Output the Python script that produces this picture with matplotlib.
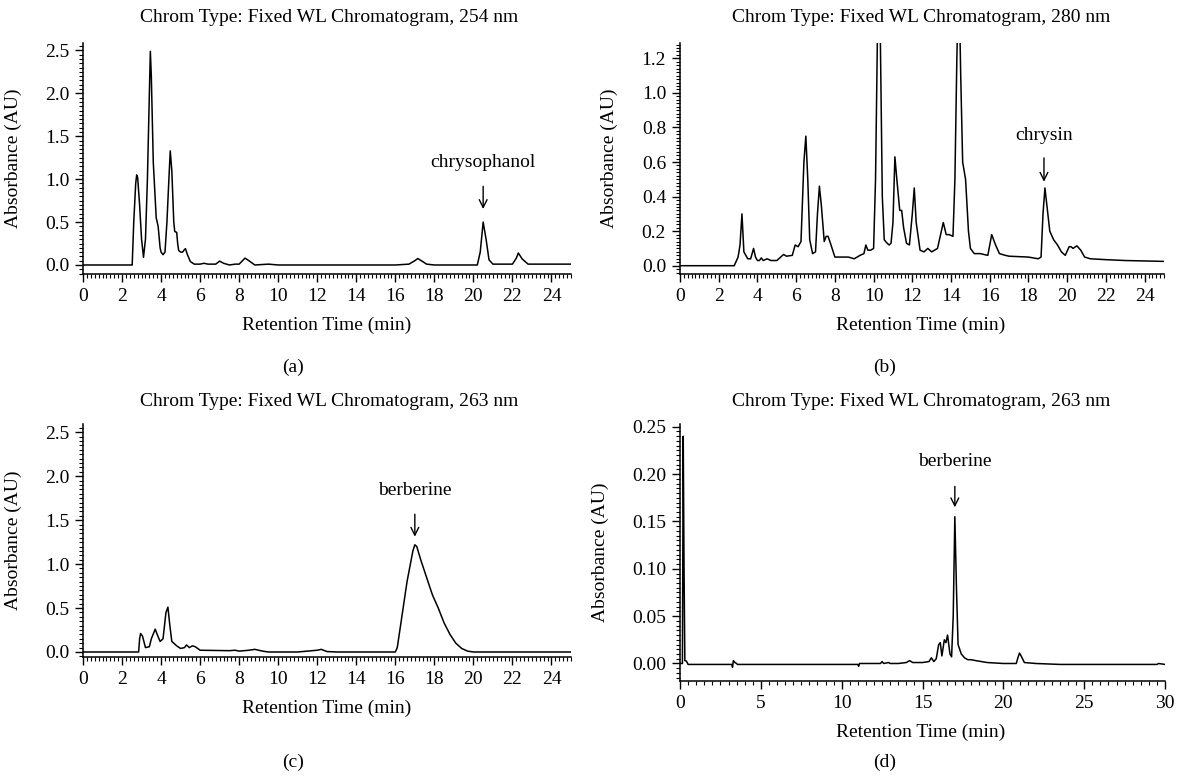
import matplotlib
matplotlib.use("Agg")
import matplotlib.pyplot as plt
from matplotlib.ticker import MultipleLocator, FormatStrFormatter

plt.rcParams["font.family"] = ["Liberation Serif", "DejaVu Serif"]
plt.rcParams["font.size"] = 14

W, H = 1180, 782

# ---- panel (a): 254 nm ----
t_a = [0, 2.5, 2.52, 2.6, 2.7, 2.75, 2.8, 2.9, 3.0, 3.1, 3.2, 3.3, 3.4, 3.45, 3.5, 3.6, 3.75,
       3.85, 3.95, 4.0, 4.1, 4.2, 4.3, 4.4, 4.47, 4.55, 4.65, 4.7, 4.8, 4.85, 4.9, 5.0, 5.1,
       5.2, 5.25, 5.35, 5.5, 5.7, 6.0, 6.2, 6.4, 6.8, 7.0, 7.2, 7.5, 7.8, 8.0, 8.3, 8.5, 8.8,
       9.5, 10.0, 16.0, 16.7, 17.0, 17.15, 17.4, 17.6, 18.0, 20.2, 20.35, 20.5, 20.65, 20.8,
       21.0, 22.0, 22.2, 22.3, 22.5, 22.8, 25.0]
abs_a = [0.0, 0.0, 0.0, 0.5, 0.95, 1.05, 1.02, 0.7, 0.3, 0.09, 0.3, 1.0, 2.0, 2.49, 2.2, 1.2, 0.55,
         0.45, 0.2, 0.15, 0.12, 0.15, 0.5, 1.0, 1.33, 1.1, 0.5, 0.39, 0.38, 0.25, 0.17, 0.15, 0.15,
         0.18, 0.19, 0.12, 0.04, 0.01, 0.01, 0.02, 0.01, 0.01, 0.045, 0.02, 0.0, 0.01, 0.01, 0.08, 0.05, 0.0,
         0.01, 0.0, 0.0, 0.01, 0.05, 0.075, 0.04, 0.01, 0.0, 0.0, 0.15, 0.5, 0.3, 0.06,
         0.01, 0.01, 0.08, 0.14, 0.07, 0.01, 0.01]

# ---- panel (b): 280 nm ----
t_b = [0, 2.8, 3.0, 3.1, 3.2, 3.3, 3.5, 3.65, 3.8, 3.9, 4.0, 4.1, 4.2, 4.3, 4.5, 4.7, 5.0, 5.2,
       5.35, 5.5, 5.8, 5.95, 6.1, 6.25, 6.4, 6.5, 6.6, 6.7, 6.85, 7.0, 7.1, 7.2, 7.3, 7.45, 7.55,
       7.65, 7.8, 8.0, 8.5, 8.7, 9.0, 9.3, 9.5, 9.6, 9.7, 9.85, 10.0, 10.1, 10.2, 10.25, 10.35,
       10.45, 10.55, 10.7, 10.8, 10.9, 11.0, 11.1, 11.2, 11.35, 11.45, 11.55, 11.7, 11.85, 12.0,
       12.1, 12.2, 12.4, 12.6, 12.8, 13.0, 13.3, 13.5, 13.6, 13.75, 13.9, 14.1, 14.2, 14.3, 14.4,
       14.5, 14.6, 14.75, 14.9, 15.0, 15.2, 15.5, 15.9, 16.0, 16.1, 16.3, 16.5, 16.8, 17.0, 18.0,
       18.5, 18.65, 18.75, 18.85, 19.0, 19.1, 19.3, 19.5, 19.7, 19.9, 20.1, 20.2, 20.3, 20.5,
       20.7, 20.9, 21.2, 22.0, 23.0, 25.0]
abs_b = [0.0, 0.0, 0.05, 0.12, 0.3, 0.08, 0.04, 0.04, 0.1, 0.05, 0.03, 0.03, 0.045, 0.03, 0.04, 0.03, 0.03, 0.05,
         0.065, 0.055, 0.06, 0.12, 0.11, 0.14, 0.6, 0.75, 0.5, 0.15, 0.07, 0.08, 0.3, 0.46, 0.35, 0.14, 0.17,
         0.17, 0.12, 0.05, 0.05, 0.05, 0.04, 0.06, 0.07, 0.12, 0.09, 0.09, 0.1, 0.5, 1.35, 1.7, 1.3,
         0.4, 0.15, 0.13, 0.12, 0.13, 0.25, 0.63, 0.5, 0.32, 0.32, 0.22, 0.13, 0.12, 0.3,
         0.45, 0.25, 0.09, 0.08, 0.1, 0.08, 0.1, 0.2, 0.25, 0.18, 0.18, 0.17, 0.5, 1.2, 1.7,
         1.1, 0.6, 0.5, 0.2, 0.1, 0.07, 0.07, 0.06, 0.12, 0.18, 0.12, 0.07, 0.06, 0.055, 0.05,
         0.04, 0.05, 0.3, 0.45, 0.3, 0.2, 0.15, 0.12, 0.08, 0.06, 0.11, 0.11, 0.1, 0.115,
         0.09, 0.05, 0.04, 0.035, 0.03, 0.025]

# ---- panel (c): 263 nm ----
t_c = [0, 2.85, 2.9, 2.95, 3.05, 3.2, 3.4, 3.5, 3.7, 3.8, 3.95, 4.1, 4.25, 4.35, 4.45, 4.55,
       4.8, 5.0, 5.2, 5.3, 5.45, 5.6, 5.75, 6.0, 7.5, 7.8, 8.0, 8.5, 8.8, 9.2, 9.5, 11.0, 11.5,
       12.0, 12.2, 12.5, 13.0, 16.0, 16.1, 16.3, 16.6, 16.9, 17.0, 17.1, 17.3, 17.6, 17.9, 18.2,
       18.5, 18.8, 19.1, 19.4, 19.7, 20.0, 25.0]
abs_c = [0.0, 0.0, 0.15, 0.21, 0.18, 0.05, 0.06, 0.15, 0.26, 0.2, 0.12, 0.15, 0.45, 0.51, 0.3, 0.12,
         0.07, 0.04, 0.05, 0.08, 0.05, 0.07, 0.06, 0.02, 0.015, 0.02, 0.01, 0.02, 0.03, 0.01, 0.0, 0.0, 0.01,
         0.02, 0.03, 0.005, 0.0, 0.0, 0.05, 0.35, 0.8, 1.15, 1.22, 1.2, 1.05, 0.85, 0.65, 0.5,
         0.33, 0.2, 0.1, 0.04, 0.01, 0.0, 0.0]

# ---- panel (d): 263 nm ----
t_d = [0, 0.15, 0.2, 0.25, 0.3, 0.4, 0.5, 3.2, 3.25, 3.3, 3.4, 3.5, 3.55, 11.0, 11.05, 11.1,
       12.0, 12.4, 12.5, 12.6, 12.9, 13.0, 13.5, 14.0, 14.2, 14.4, 15.0, 15.4, 15.55, 15.7, 15.85,
       16.0, 16.1, 16.2, 16.35, 16.45, 16.55, 16.7, 16.8, 16.9, 17.0, 17.1, 17.2, 17.4, 17.6,
       17.8, 18.0, 18.3, 19.0, 20.0, 20.8, 20.9, 21.0, 21.1, 21.3, 22.0, 23.5, 29.5, 29.6, 30.0]
abs_d = [0.0, 0.0, 0.24, 0.1, 0.003, 0.0025, -0.001, -0.001, -0.004, 0.003, 0.001, 0.0, -0.001, -0.001, -0.003, 0.0,
         0.0, 0.0, 0.002, 0.0, 0.001, 0.0, 0.0, 0.001, 0.003, 0.001, 0.001, 0.002, 0.006, 0.002, 0.005,
         0.02, 0.022, 0.008, 0.025, 0.022, 0.03, 0.01, 0.007, 0.05, 0.155, 0.08, 0.02, 0.01, 0.006,
         0.004, 0.004, 0.003, 0.001, 0.0, 0.0, 0.006, 0.011, 0.008, 0.001, 0.0, -0.001, -0.001, 0.0, -0.001]

titles = ["Chrom Type: Fixed WL Chromatogram, 254 nm",
          "Chrom Type: Fixed WL Chromatogram, 280 nm",
          "Chrom Type: Fixed WL Chromatogram, 263 nm",
          "Chrom Type: Fixed WL Chromatogram, 263 nm"]
letters = ["(a)", "(b)", "(c)", "(d)"]


def box(left, top, right, bottom):
    return [left / W, 1 - bottom / H, (right - left) / W, (bottom - top) / H]


def fx(x):
    return x / W


def fy(y):
    return 1 - y / H


fig = plt.figure(figsize=(W / 100, H / 100), dpi=100)

panels = [
    dict(t=t_a, a=abs_a, rect=(83, 43, 571, 274), xlim=(0, 25), ylim=(-0.105, 2.587),
         xmaj=2, xmin=0.2, ymaj=0.5, ymin=0.05, fmt="%.1f",
         note="chrysophanol", nx=20.5, ny=1.2, ay0=0.95, ay1=0.62,
         tx=329, ty=17, xl=327, ylx=22, lx=293, ly=367),
    dict(t=t_b, a=abs_b, rect=(680, 43, 1164, 274), xlim=(0, 25), ylim=(-0.048, 1.289),
         xmaj=2, xmin=0.2, ymaj=0.2, ymin=0.02, fmt="%.1f",
         note="chrysin", nx=18.8, ny=0.756, ay0=0.64, ay1=0.47,
         tx=921, ty=17, xl=921, ylx=618, lx=885, ly=367),
    dict(t=t_c, a=abs_c, rect=(83, 424, 571, 657), xlim=(0, 25), ylim=(-0.057, 2.594),
         xmaj=2, xmin=0.2, ymaj=0.5, ymin=0.05, fmt="%.1f",
         note="berberine", nx=17.0, ny=1.84, ay0=1.6, ay1=1.28,
         tx=329, ty=401, xl=327, ylx=22, lx=293, ly=762),
    dict(t=t_d, a=abs_d, rect=(680, 424, 1165, 681), xlim=(0, 30), ylim=(-0.0185, 0.2529),
         xmaj=5, xmin=0.5, ymaj=0.05, ymin=0.005, fmt="%.2f",
         note="berberine", nx=17.0, ny=0.213, ay0=0.19, ay1=0.162,
         tx=921, ty=401, xl=921, ylx=609, lx=885, ly=762),
]

for i, p in enumerate(panels):
    ax = fig.add_axes(box(*p["rect"]))
    ax.plot(p["t"], p["a"], color="black", lw=1.1)
    ax.set_xlim(*p["xlim"])
    ax.set_ylim(*p["ylim"])
    for s in ["top", "right"]:
        ax.spines[s].set_visible(False)
    for s in ["left", "bottom"]:
        ax.spines[s].set_linewidth(1.1)
    ax.xaxis.set_major_locator(MultipleLocator(p["xmaj"]))
    ax.xaxis.set_minor_locator(MultipleLocator(p["xmin"]))
    ax.yaxis.set_major_locator(MultipleLocator(p["ymaj"]))
    ax.yaxis.set_minor_locator(MultipleLocator(p["ymin"]))
    ax.yaxis.set_major_formatter(FormatStrFormatter(p["fmt"]))
    ax.tick_params(which="major", direction="out", length=6, width=1.0, labelsize=14, pad=4)
    ax.tick_params(which="minor", direction="out", length=3, width=0.8)

    ax.text(p["nx"], p["ny"], p["note"], ha="center", va="center", fontsize=14)
    ax.annotate("", xy=(p["nx"], p["ay1"]), xytext=(p["nx"], p["ay0"]),
                arrowprops=dict(arrowstyle="->", lw=1.0, color="black"))

    ax.set_xlabel("Retention Time (min)")
    ax.set_ylabel("Absorbance (AU)")
    left, top, right, bottom = p["rect"]
    xl_y = bottom + 43
    ax.xaxis.set_label_coords(fx(p["xl"]), fy(xl_y), transform=fig.transFigure)
    ax.yaxis.set_label_coords(fx(p["ylx"]), fy((top + bottom) / 2), transform=fig.transFigure)

    fig.text(fx(p["tx"]), fy(p["ty"]), titles[i], ha="center", va="center", fontsize=14)
    fig.text(fx(p["lx"]), fy(p["ly"]), letters[i], ha="center", va="center", fontsize=14)

fig.savefig("out.png", dpi=100)
